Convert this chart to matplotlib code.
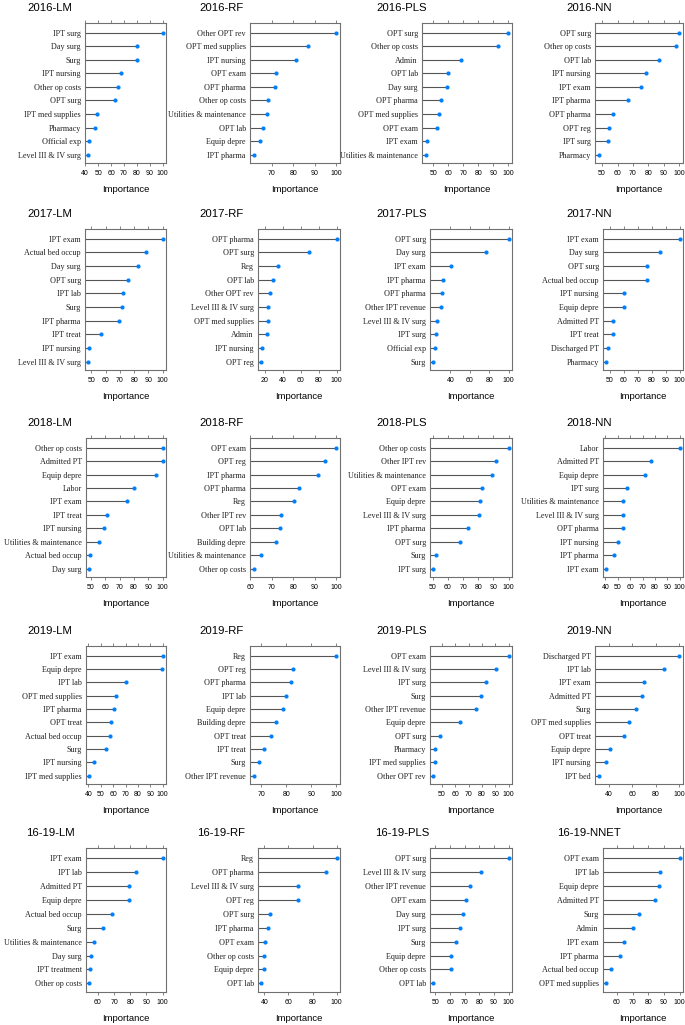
import matplotlib
matplotlib.use("Agg")
import matplotlib.pyplot as plt

# ---- data: variable importance per year / model (top to bottom) ----
lm_2016_labels = ["IPT surg", "Day surg", "Surg", "IPT nursing", "Other op costs",
                  "OPT surg", "IPT med supplies", "Pharmacy", "Official exp",
                  "Level III & IV surg"]
lm_2016_values = [100, 80.0, 79.8, 68, 65, 63, 49, 47.5, 43, 42.4]
lm_2016_ticks = [40, 50, 60, 70, 80, 90, 100]

rf_2016_labels = ["Other OPT rev", "OPT med supplies", "IPT nursing", "OPT exam",
                  "OPT pharma", "Other op costs", "Utilities & maintenance",
                  "OPT lab", "Equip depre", "IPT pharma"]
rf_2016_values = [100, 87, 81.4, 71.8, 71.5, 68.4, 68, 65.9, 64.6, 61.6]
rf_2016_ticks = [70, 80, 90, 100]

pls_2016_labels = ["OPT surg", "Other op costs", "Admin", "OPT lab", "Day surg",
                   "OPT pharma", "OPT med supplies", "OPT exam", "IPT exam",
                   "Utilities & maintenance"]
pls_2016_values = [100, 93.3, 68.3, 59.5, 59.3, 55.2, 53.8, 52.4, 45.7, 44.8]
pls_2016_ticks = [50, 60, 70, 80, 90, 100]

nn_2016_labels = ["OPT surg", "Other op costs", "OPT lab", "IPT nursing", "IPT exam",
                  "IPT pharma", "OPT pharma", "OPT reg", "IPT surg", "Pharmacy"]
nn_2016_values = [100, 98.1, 86.8, 78.2, 74.9, 66.8, 57, 54.7, 53.6, 47.8]
nn_2016_ticks = [50, 60, 70, 80, 90, 100]

lm_2017_labels = ["IPT exam", "Actual bed occup", "Day surg", "OPT surg", "IPT lab",
                  "Surg", "IPT pharma", "IPT treat", "IPT nursing",
                  "Level III & IV surg"]
lm_2017_values = [100, 88, 82.9, 75.4, 72.2, 71.7, 69, 56.8, 48, 47.8]
lm_2017_ticks = [50, 60, 70, 80, 90, 100]

rf_2017_labels = ["OPT pharma", "OPT surg", "Reg", "OPT lab", "Other OPT rev",
                  "Level III & IV surg", "OPT med supplies", "Admin", "IPT nursing",
                  "OPT reg"]
rf_2017_values = [100, 69, 35.3, 29.8, 25.9, 24.3, 23.9, 23.1, 16.9, 16.5]
rf_2017_ticks = [20, 40, 60, 80, 100]

pls_2017_labels = ["OPT surg", "Day surg", "IPT exam", "IPT pharma", "OPT pharma",
                   "Other IPT revenue", "Level III & IV surg", "IPT surg",
                   "Official exp", "Surg"]
pls_2017_values = [100, 76.9, 40.4, 32.3, 31.2, 30.5, 26.5, 25.4, 23.9, 22.4]
pls_2017_ticks = [40, 60, 80, 100]

nn_2017_labels = ["IPT exam", "Day surg", "OPT surg", "Actual bed occup", "IPT nursing",
                  "Equip depre", "Admitted PT", "IPT treat", "Discharged PT",
                  "Pharmacy"]
nn_2017_values = [100, 86.1, 76.5, 76.5, 60.4, 60.1, 52.2, 52, 48.8, 47.5]
nn_2017_ticks = [50, 60, 70, 80, 90, 100]

lm_2018_labels = ["Other op costs", "Admitted PT", "Equip depre", "Labor", "IPT exam",
                  "IPT treat", "IPT nursing", "Utilities & maintenance",
                  "Actual bed occup", "Day surg"]
lm_2018_values = [100, 100, 95.5, 79.9, 75.1, 61.5, 59.3, 55.7, 49.3, 49]
lm_2018_ticks = [50, 60, 70, 80, 90, 100]

rf_2018_labels = ["OPT exam", "OPT reg", "IPT pharma", "OPT pharma", "Reg",
                  "Other IPT rev", "OPT lab", "Building depre",
                  "Utilities & maintenance", "Other op costs"]
rf_2018_values = [100, 94.7, 91.7, 82.7, 80.2, 74.3, 73.8, 71.9, 65.1, 61.5]
rf_2018_ticks = [60, 70, 80, 90, 100]

pls_2018_labels = ["Other op costs", "Other IPT rev", "Utilities & maintenance",
                   "OPT exam", "Equip depre", "Level III & IV surg", "IPT pharma",
                   "OPT surg", "Surg", "IPT surg"]
pls_2018_values = [100, 91.6, 88.8, 82.8, 81.4, 80.2, 73, 68.1, 52.1, 50.5]
pls_2018_ticks = [50, 60, 70, 80, 90, 100]

nn_2018_labels = ["Labor", "Admitted PT", "Equip depre", "IPT surg",
                  "Utilities & maintenance", "Level III & IV surg", "OPT pharma",
                  "IPT nursing", "IPT pharma", "IPT exam"]
nn_2018_values = [100, 76.9, 72.4, 57.3, 54.5, 54.2, 54, 50, 46.7, 40.8]
nn_2018_ticks = [40, 50, 60, 70, 80, 90, 100]

lm_2019_labels = ["IPT exam", "Equip depre", "IPT lab", "OPT med supplies",
                  "IPT pharma", "OPT treat", "Actual bed occup", "Surg",
                  "IPT nursing", "IPT med supplies"]
lm_2019_values = [100, 99.8, 70.8, 62.2, 60.8, 58, 57.8, 54.2, 44.4, 40.8]
lm_2019_ticks = [40, 50, 60, 70, 80, 90, 100]

rf_2019_labels = ["Reg", "OPT reg", "OPT pharma", "IPT lab", "Equip depre",
                  "Building depre", "OPT treat", "IPT treat", "Surg",
                  "Other IPT revenue"]
rf_2019_values = [100, 82.7, 82, 79.9, 78.7, 75.9, 73.9, 70.9, 69, 66.9]
rf_2019_ticks = [70, 80, 90, 100]

pls_2019_labels = ["OPT exam", "Level III & IV surg", "IPT surg", "Surg",
                   "Other IPT revenue", "Equip depre", "OPT surg", "Pharmacy",
                   "IPT med supplies", "Other OPT rev"]
pls_2019_values = [100, 90.4, 82.7, 79, 75.5, 63.8, 48.9, 44.9, 44.7, 43.6]
pls_2019_ticks = [50, 60, 70, 80, 90, 100]

nn_2019_labels = ["Discharged PT", "IPT lab", "IPT exam", "Admitted PT", "Surg",
                  "OPT med supplies", "OPT treat", "Equip depre", "IPT nursing",
                  "IPT bed"]
nn_2019_values = [100, 87.2, 70.3, 68.5, 63.5, 57.5, 52.8, 41.2, 37.6, 31.4]
nn_2019_ticks = [40, 60, 80, 100]

lm_all_labels = ["IPT exam", "IPT lab", "Admitted PT", "Equip depre",
                 "Actual bed occup", "Surg", "Utilities & maintenance", "Day surg",
                 "IPT treatment", "Other op costs"]
lm_all_values = [100, 83.7, 79.3, 79.3, 68.9, 63.2, 57.7, 55.8, 55.1, 54.7]
lm_all_ticks = [60, 70, 80, 90, 100]

rf_all_labels = ["Reg", "OPT pharma", "Level III & IV surg", "OPT reg", "OPT surg",
                 "IPT pharma", "OPT exam", "Other op costs", "Equip depre", "OPT lab"]
rf_all_values = [100, 91.5, 68.2, 67.9, 44.7, 42.9, 40.3, 40, 39.7, 37.6]
rf_all_ticks = [40, 60, 80, 100]

pls_all_labels = ["OPT surg", "Level III & IV surg", "Other IPT revenue", "OPT exam",
                  "Day surg", "IPT surg", "Surg", "Equip depre", "Other op costs",
                  "OPT lab"]
pls_all_values = [100, 81.4, 73.4, 71, 68.6, 66.9, 64.3, 60.9, 60.4, 48.6]
pls_all_ticks = [50, 60, 70, 80, 90, 100]

nnet_all_labels = ["OPT exam", "IPT lab", "Equip depre", "Admitted PT", "Surg",
                   "Admin", "IPT exam", "IPT pharma", "Actual bed occup",
                   "OPT med supplies"]
nnet_all_values = [100, 87.7, 87, 84.4, 73.8, 70.1, 64.2, 62, 56.3, 53.2]
nnet_all_ticks = [60, 70, 80, 90, 100]

titles = [
    ["2016-LM", "2016-RF", "2016-PLS", "2016-NN"],
    ["2017-LM", "2017-RF", "2017-PLS", "2017-NN"],
    ["2018-LM", "2018-RF", "2018-PLS", "2018-NN"],
    ["2019-LM", "2019-RF", "2019-PLS", "2019-NN"],
    ["16-19-LM", "16-19-RF", "16-19-PLS", "16-19-NNET"],
]

panels = [
    [(lm_2016_labels, lm_2016_values, lm_2016_ticks),
     (rf_2016_labels, rf_2016_values, rf_2016_ticks),
     (pls_2016_labels, pls_2016_values, pls_2016_ticks),
     (nn_2016_labels, nn_2016_values, nn_2016_ticks)],
    [(lm_2017_labels, lm_2017_values, lm_2017_ticks),
     (rf_2017_labels, rf_2017_values, rf_2017_ticks),
     (pls_2017_labels, pls_2017_values, pls_2017_ticks),
     (nn_2017_labels, nn_2017_values, nn_2017_ticks)],
    [(lm_2018_labels, lm_2018_values, lm_2018_ticks),
     (rf_2018_labels, rf_2018_values, rf_2018_ticks),
     (pls_2018_labels, pls_2018_values, pls_2018_ticks),
     (nn_2018_labels, nn_2018_values, nn_2018_ticks)],
    [(lm_2019_labels, lm_2019_values, lm_2019_ticks),
     (rf_2019_labels, rf_2019_values, rf_2019_ticks),
     (pls_2019_labels, pls_2019_values, pls_2019_ticks),
     (nn_2019_labels, nn_2019_values, nn_2019_ticks)],
    [(lm_all_labels, lm_all_values, lm_all_ticks),
     (rf_all_labels, rf_all_values, rf_all_ticks),
     (pls_all_labels, pls_all_values, pls_all_ticks),
     (nnet_all_labels, nnet_all_values, nnet_all_ticks)],
]

# ---- layout in pixels (figure is 685 x 1025) ----
W, H = 685, 1025
row_top = [23, 229, 438, 646, 848]
row_bottom = [163, 370, 577, 784, 992]
col_right = [166, 340, 512, 683]
axes_left = [
    [85, 250, 422, 595],
    [85, 258, 430, 603],
    [86, 250, 430, 603],
    [86, 250, 430, 595],
    [86, 258, 430, 603],
]
title_x = [50, 221, 402, 589]

FRAME = "#707070"
STEM = "#555555"
DOT = "#0080ff"

fig = plt.figure(figsize=(W / 100, H / 100), dpi=100)

for r in range(5):
    for c in range(4):
        labels, values, ticks = panels[r][c]
        left = axes_left[r][c]
        ax = fig.add_axes([
            left / W,
            1 - row_bottom[r] / H,
            (col_right[c] - left) / W,
            (row_bottom[r] - row_top[r]) / H,
        ])

        n = len(labels)
        ypos = list(range(n - 1, -1, -1))
        lo, hi = min(values), max(values)
        span = hi - lo
        x0 = lo - 0.045 * span
        x1 = hi + 0.045 * span

        ax.hlines(ypos, x0, values, color=STEM, linewidth=0.8)
        ax.plot(values, ypos, "o", color=DOT, markersize=3.0,
                markeredgewidth=0)

        ax.set_xlim(x0, x1)
        ax.set_ylim(-0.62, n - 1 + 0.72)

        ax.set_yticks(ypos)
        ax.set_yticklabels(labels, fontsize=5.9, family="Liberation Serif",
                           color="#222222")
        ax.tick_params(axis="y", length=0, pad=3)

        ax.set_xticks(ticks)
        ax.set_xticklabels([str(t) for t in ticks], fontsize=5.0,
                           family="Liberation Sans")
        ax.tick_params(axis="x", which="both", top=True, bottom=True,
                       direction="out", length=2.2, width=0.6,
                       color=FRAME, pad=2.5)

        for sp in ax.spines.values():
            sp.set_color(FRAME)
            sp.set_linewidth(0.8)

        ax.set_xlabel("Importance", fontsize=6.8, family="Liberation Sans",
                      labelpad=6)

        fig.text(title_x[c] / W, 1 - (row_top[r] - 15) / H, titles[r][c],
                 ha="center", va="center", fontsize=8.2,
                 family="Liberation Sans")

fig.savefig("out.png", dpi=100)
